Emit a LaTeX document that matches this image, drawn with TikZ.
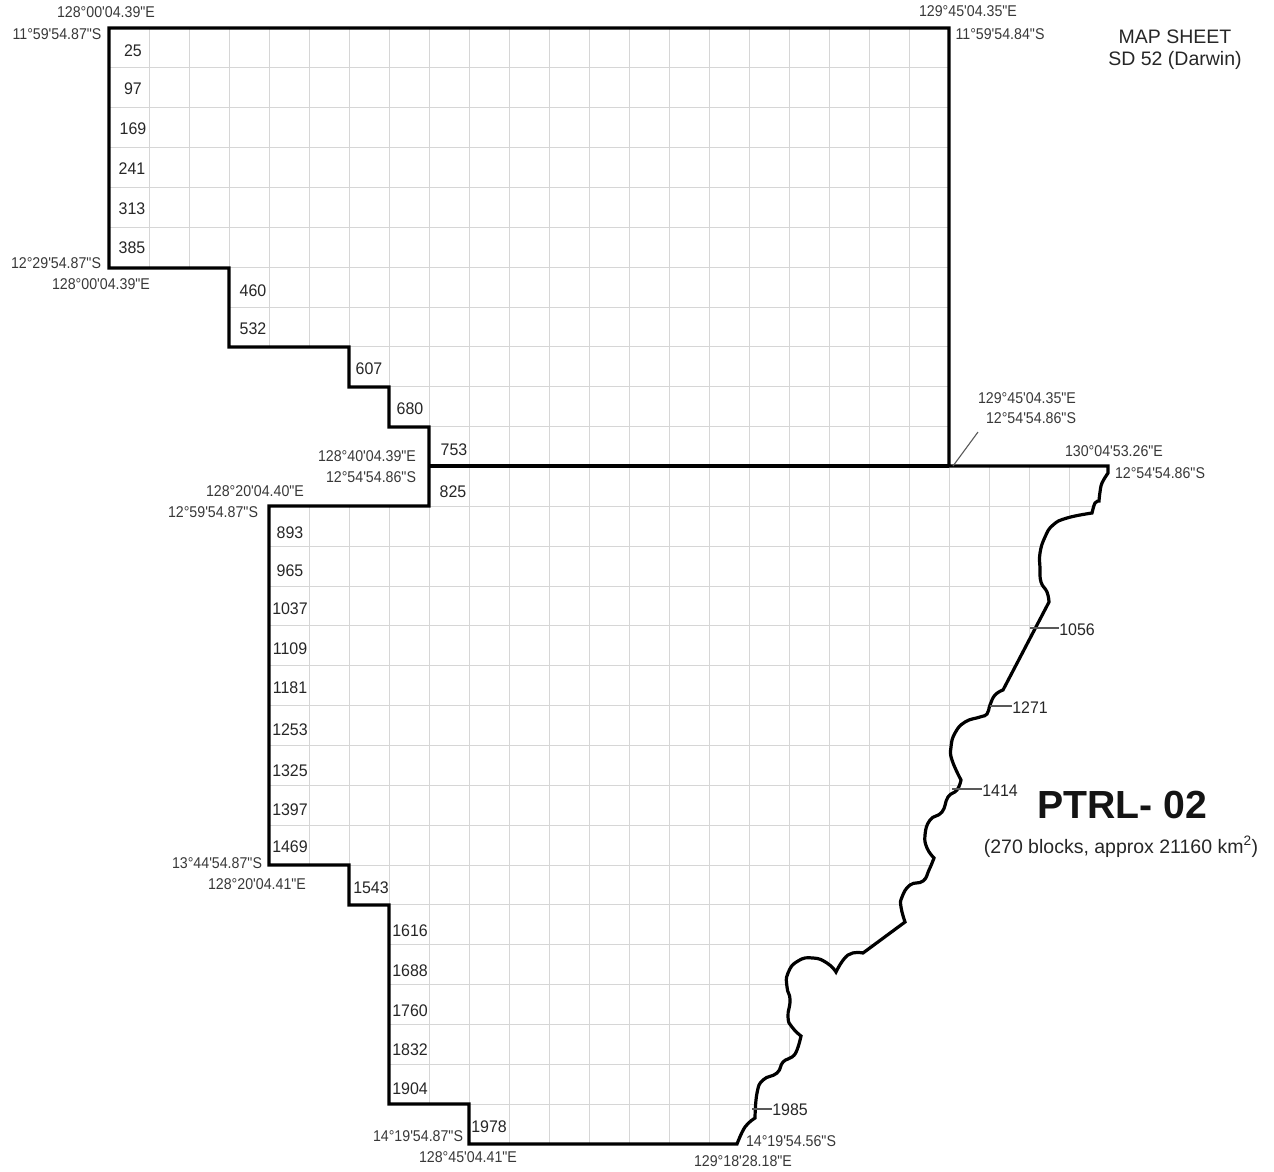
\documentclass[tikz,border=0pt]{standalone}
\usepackage{fontspec}
\newfontfamily\lab{Liberation Sans}
\newfontfamily\labn[FakeStretch=0.91]{Liberation Sans}
\newfontfamily\labm[FakeStretch=0.95]{Liberation Sans}
\newcommand{\fsz}[1]{\fontsize{#1}{#1}\selectfont}
\newcommand{\coastline}{
 -- (1108,473)
 -- plot[smooth,tension=.7] coordinates {(1108,473) (1102,483) (1100,492) (1099,501)}
 -- plot[smooth,tension=.7] coordinates {(1099,501) (1095,503) (1092,513)}
 -- plot[smooth,tension=.8] coordinates {(1092,513) (1067,518) (1053,525) (1045,537) (1040,553) (1040,568) (1041,582) (1047,592) (1049,602)}
 -- (1003,690)
 -- plot[smooth,tension=.8] coordinates {(1003,690) (995,695) (990,705) (987,714) (980,717) (965,722) (955,733) (951,747) (952,760) (961,780)}
 -- plot[smooth,tension=.8] coordinates {(961,780) (957,790) (948,797) (942,812) (930,820) (925,835) (927,848) (934,858)}
 -- plot[smooth,tension=.8] coordinates {(934,858) (929,870) (923,881) (910,885) (902,897) (901,907) (905,922)}
 -- (863,953)
 -- plot[smooth,tension=.8] coordinates {(863,953) (848,955) (836,972)}
 -- plot[smooth,tension=.9] coordinates {(836,972) (827,963) (813,958) (798,961) (788,973) (787,987) (790,1000) (788,1017) (792,1027) (801,1036)}
 -- plot[smooth,tension=.8] coordinates {(801,1036) (797,1050) (792,1057) (783,1062) (777,1073) (763,1080) (757,1093) (755,1118)}
 -- plot[smooth,tension=.7] coordinates {(755,1118) (745,1127) (737,1144)}
}
\newcommand{\outlinepath}{
 (109,28) -- (949,28) -- (949,466) -- (1108,466) \coastline
 -- (469,1144) -- (469,1104) -- (389,1104) -- (389,905) -- (349,905) -- (349,865)
 -- (269,865) -- (269,506) -- (429,506) -- (429,427) -- (389,427) -- (389,387)
 -- (349,387) -- (349,347) -- (229,347) -- (229,268) -- (109,268) -- cycle
}
\tikzset{
 x=1pt,y=-1pt,
 gridline/.style={draw=black!16,line width=1pt},
 border/.style={draw=black,line width=3.2pt,line join=miter},
 leader/.style={draw=black!65,line width=1.1pt},
 coordlabel/.style={font=\labn\fsz{15.6},text=black!78,inner sep=0pt,anchor=center},
 numlabel/.style={font=\labm\fsz{16.8},text=black!85,inner sep=0pt,anchor=center,yshift=0.6pt},
 textlabel/.style={font=\lab\fsz{19.5},text=black!85,inner sep=0pt,anchor=center},
}
\begin{document}
\begin{tikzpicture}
\useasboundingbox (0,0) rectangle (1274,1171);
\begin{scope}
 \clip \outlinepath;
 \foreach \k in {0,...,25} \draw[gridline] ({109+40*\k},20) -- ({109+40*\k},1150);
 \foreach \n in {0,...,28} \draw[gridline] (100,{28+39.86*\n}) -- (1120,{28+39.86*\n});
\end{scope}
\path[border] \outlinepath;
\coordinate (ja) at (429,466);
\coordinate (jb) at (949,466);
\path[border] (ja) -- (jb);
% block numbers
\foreach \t/\x/\y in {25/133/51,97/133/89,169/133/129,241/132/169,313/132/209,385/132/248,
 460/253/291,532/253/329,607/369/369,680/410/409,753/454/450,825/453/492,
 893/290/533,965/290/571,1037/290/609,1109/290/649,1181/290/688,1253/290/730,1325/290/771,1397/290/810,1469/290/847,
 1543/371/888,1616/410/931,1688/410/971,1760/410/1011,1832/410/1050,1904/410/1089,1978/489/1127}
 \node[numlabel] (n\t) at (\x,\y) {\t};
\node[numlabel] (c1056) at (1077,630) {1056};
\node[numlabel] (c1271) at (1030,708) {1271};
\node[numlabel] (c1414) at (1000,791) {1414};
\node[numlabel] (c1985) at (790,1110) {1985};
\coordinate (l1056) at (1030,628);
\coordinate (l1271) at (990,706);
\coordinate (l1414) at (952,789);
\coordinate (l1985) at (752,1109);
\draw[leader] (l1056) -- (c1056.west |- l1056);
\draw[leader] (l1271) -- (c1271.west |- l1271);
\draw[leader] (l1414) -- (c1414.west |- l1414);
\draw[leader] (l1985) -- (c1985.west |- l1985);
% coordinates
\node[coordlabel] (a1) at (106,12) {128°00'04.39"E};
\node[coordlabel] (a2) at (57,34) {11°59'54.87"S};
\node[coordlabel] (a3) at (968,11) {129°45'04.35"E};
\node[coordlabel] (a4) at (1000,34) {11°59'54.84"S};
\node[coordlabel] (a5) at (56,263) {12°29'54.87"S};
\node[coordlabel] (a6) at (101,284) {128°00'04.39"E};
\node[coordlabel] (a7) at (367,456) {128°40'04.39"E};
\node[coordlabel] (a8) at (371,477) {12°54'54.86"S};
\node[coordlabel] (a9) at (255,491) {128°20'04.40"E};
\node[coordlabel] (a10) at (213,512) {12°59'54.87"S};
\node[coordlabel] (a11) at (1027,398) {129°45'04.35"E};
\node[coordlabel] (a12) at (1031,418) {12°54'54.86"S};
\node[coordlabel] (a13) at (1114,451) {130°04'53.26"E};
\node[coordlabel] (a14) at (1160,473) {12°54'54.86"S};
\node[coordlabel] (a15) at (217,863) {13°44'54.87"S};
\node[coordlabel] (a16) at (257,884) {128°20'04.41"E};
\node[coordlabel] (a17) at (418,1136) {14°19'54.87"S};
\node[coordlabel] (a18) at (468,1157) {128°45'04.41"E};
\node[coordlabel] (a19) at (791,1141) {14°19'54.56"S};
\node[coordlabel] (a20) at (743,1161) {129°18'28.18"E};
\coordinate (lj) at (953,466);
\coordinate (lk) at (978,432);
\draw[leader] (lj) -- (lk);
% titles
\node[textlabel] (m1) at (1175,37) {MAP SHEET};
\node[textlabel] (m2) at (1175,60) {SD 52 (Darwin)};
\node[font=\lab\bfseries\fsz{39.2},text=black!92,inner sep=0pt] (t1) at (1122,805) {PTRL- 02};
\node[textlabel] (t2) at (1121,847) {(270 blocks, approx 21160 km\textsuperscript{2})};
\end{tikzpicture}
\end{document}
